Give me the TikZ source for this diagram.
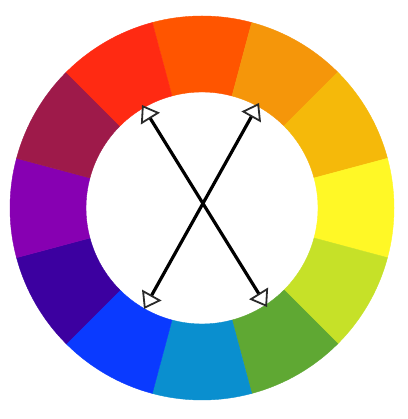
\documentclass[tikz,border=0pt]{standalone}
\usetikzlibrary{arrows.meta}
\definecolor{cA}{HTML}{FF5500}
\definecolor{cB}{HTML}{F5960A}
\definecolor{cC}{HTML}{F5B90A}
\definecolor{cD}{HTML}{FFF826}
\definecolor{cE}{HTML}{C6E128}
\definecolor{cF}{HTML}{5FA833}
\definecolor{cG}{HTML}{0A8FCF}
\definecolor{cH}{HTML}{0A3AFF}
\definecolor{cI}{HTML}{3C00A0}
\definecolor{cJ}{HTML}{8700B2}
\definecolor{cK}{HTML}{9E1A4A}
\definecolor{cL}{HTML}{FF2A12}
\definecolor{tipgray}{HTML}{2A2A2A}
\tikzset{
  sector/.style={fill=#1, draw=#1, line width=0.4pt},
  dblarrow/.style={line width=3.2pt, black,
    {Triangle[open, length=16pt, width=22pt, line width=1.8pt, color=tipgray]}-{Triangle[open, length=16pt, width=22pt, line width=1.8pt, color=tipgray]}}
}
\begin{document}
\begin{tikzpicture}[x=1pt,y=1pt]
\useasboundingbox[fill=white] (0,0) rectangle (407,419);
\begin{scope}[shift={(202,211)}]
\foreach \a/\col in {90/cA,60/cB,30/cC,0/cD,-30/cE,-60/cF,-90/cG,-120/cH,-150/cI,180/cJ,150/cK,120/cL}{
  \path[sector=\col] (\a-15:192) arc[start angle=\a-15, end angle=\a+15, radius=192]
     -- (\a+15:116) arc[start angle=\a+15, end angle=\a-15, radius=116] -- cycle;
}
\end{scope}
\coordinate (ul) at (142,314);
\coordinate (lr) at (267,112);
\coordinate (ur) at (259,316);
\coordinate (ll) at (144,110);
\draw[dblarrow] (ul) -- (lr);
\draw[dblarrow] (ur) -- (ll);
\end{tikzpicture}
\end{document}
